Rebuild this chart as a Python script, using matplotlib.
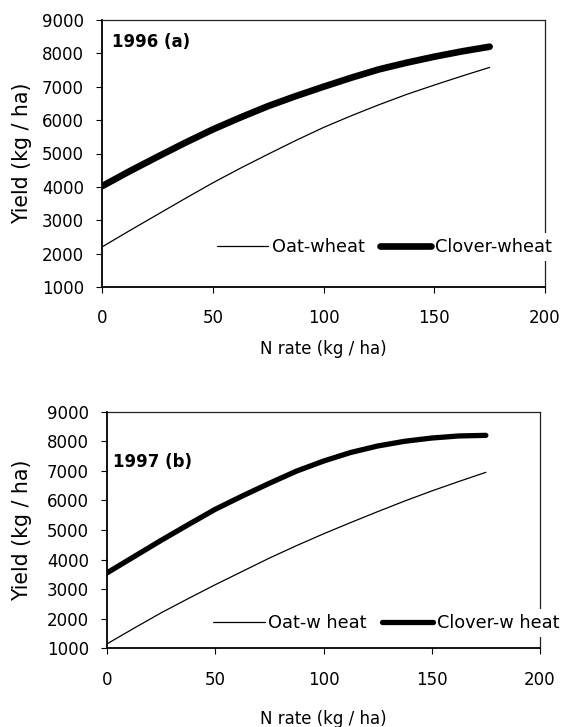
import matplotlib
matplotlib.use("Agg")
import matplotlib.pyplot as plt

# ---- data ----
n_rate = [0, 12.5, 25, 37.5, 50, 62.5, 75, 87.5, 100, 112.5, 125, 137.5, 150, 162.5, 175]

oat_1996 = [2200, 2690, 3170, 3650, 4120, 4560, 4980, 5390, 5780, 6130, 6460, 6770, 7050, 7320, 7580]
clover_1996 = [4020, 4470, 4900, 5320, 5720, 6080, 6420, 6720, 7000, 7270, 7520, 7720, 7900, 8060, 8200]

oat_1997 = [1150, 1680, 2200, 2680, 3150, 3600, 4050, 4470, 4870, 5250, 5620, 5980, 6320, 6640, 6950]
clover_1997 = [3550, 4100, 4650, 5180, 5700, 6150, 6580, 6990, 7330, 7620, 7840, 8000, 8110, 8180, 8200]

x_ticks = [0, 50, 100, 150, 200]
y_ticks = [1000, 2000, 3000, 4000, 5000, 6000, 7000, 8000, 9000]

labels_1996 = ["Oat-wheat", "Clover-wheat"]
labels_1997 = ["Oat-w heat", "Clover-w heat"]
titles = ["1996 (a)", "1997 (b)"]

plt.rcParams['font.family'] = ['DejaVu Sans']
TICK_FS = 12
LEG_FS = 12.8
XLAB_FS = 12
YLAB_FS = 14.8
TITLE_FS = 12

W, H = 564, 727
fig = plt.figure(figsize=(W / 100, H / 100), dpi=100)


def px_axes(left, right, top, bottom):
    return fig.add_axes([left / W, 1 - bottom / H, (right - left) / W, (bottom - top) / H])


panels = [
    dict(box=(102, 545, 20, 287), oat=oat_1996, clover=clover_1996, labels=labels_1996,
         title=titles[0], tpos=(112, 42), thick=4.8, leg=(216.7, 247), ylab_right=32, xlab_top=340),
    dict(box=(107, 540, 411.7, 648.3), oat=oat_1997, clover=clover_1997, labels=labels_1997,
         title=titles[1], tpos=(113, 462), thick=3.8, leg=(213, 623), ylab_right=32, xlab_top=710),
]

for p in panels:
    l, r, t, b = p['box']
    ax = px_axes(l, r, t, b)
    ax.plot(n_rate, p['oat'], color='black', lw=0.9, label=p['labels'][0], solid_capstyle='round')
    ax.plot(n_rate, p['clover'], color='black', lw=p['thick'], label=p['labels'][1], solid_capstyle='round')
    ax.set_xlim(0, 200)
    ax.set_ylim(1000, 9000)
    ax.set_xticks(x_ticks)
    ax.set_yticks(y_ticks)
    ax.tick_params(direction='out', length=4, width=0.8, labelsize=TICK_FS, color='black')
    ax.tick_params(axis='y', pad=9)
    ax.tick_params(axis='x', pad=12)
    ax.tick_params(top=False, right=False)
    for s in ['left', 'bottom']:
        ax.spines[s].set_linewidth(1.3)
    for s in ['top', 'right']:
        ax.spines[s].set_linewidth(0.9)
        ax.spines[s].set_color('#222222')
    ax.set_xlabel("N rate (kg / ha)", fontsize=XLAB_FS, va='top')
    ax.xaxis.set_label_coords(0.5, (b - p['xlab_top']) / (b - t))
    ax.set_ylabel("Yield (kg / ha)", fontsize=YLAB_FS)
    ax.yaxis.set_label_coords((p['ylab_right'] - l) / (r - l), 0.5)
    ax.text((p['tpos'][0] - l) / (r - l), (b - p['tpos'][1]) / (b - t), p['title'],
            transform=ax.transAxes, fontsize=TITLE_FS, fontweight='bold', ha='left', va='center')
    lx, ly = p['leg']
    bp = 0.3
    leg = ax.legend(loc='center left', ncol=2, fontsize=LEG_FS,
                    bbox_to_anchor=((lx - bp * LEG_FS * 100 / 72) / W, 1 - ly / H),
                    bbox_transform=fig.transFigure, frameon=True, borderpad=bp,
                    borderaxespad=0, handlelength=2.9, handletextpad=0.2,
                    columnspacing=0.85, fancybox=False)
    leg.get_frame().set_facecolor('white')
    leg.get_frame().set_edgecolor('none')
    leg.get_frame().set_alpha(1)

fig.savefig("out.png", dpi=100)
